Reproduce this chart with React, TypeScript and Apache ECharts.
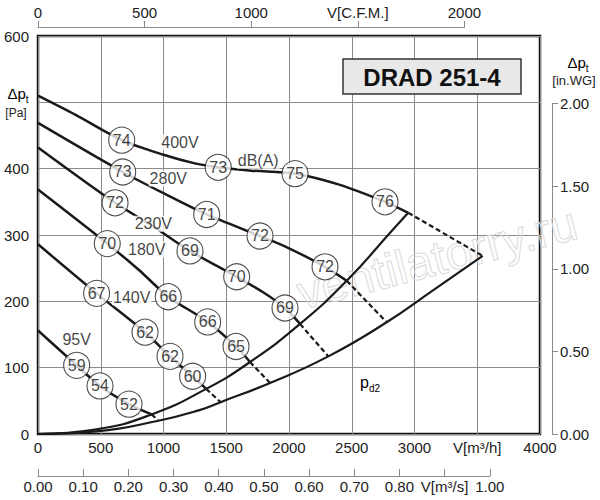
import React, { useEffect, useRef } from 'react';
import * as echarts from 'echarts';

const FONT = '"Liberation Sans", Arial, Helvetica, sans-serif';

// Axis ranges and tick steps
const FLOW_MAX = 4000; // m3/h
const FLOW_STEP = 500;
const PRESS_MAX = 600; // Pa
const PRESS_STEP = 100;
const CFM_MAX = 2000;
const CFM_STEP = 500;
const M3S_MAX = 1.0;
const M3S_STEP = 0.1;
const INWG_MAX = 2.0;
const INWG_STEP = 0.5;

// Tick values whose label is replaced by the unit / axis title
const FLOW_UNIT_TICK = 3500;
const CFM_UNIT_TICK = 1500;
const M3S_UNIT_TICK = 0.9;
const PRESS_TITLE_TICK = 500;

// Fan curves [m3/h, Pa]
const volt400 = [[0, 510], [300, 481], [667, 443], [1000, 421], [1250, 408], [1436, 402], [1700, 397], [2048, 392.5], [2400, 376], [2765, 350], [2950, 333.5]];
const dash400 = [[2950, 333.5], [3543, 268.5]];
const db400 = [[667, 443, '74'], [1436, 402, '73'], [2048, 392.5, '75'], [2765, 350, '76']];

const volt280 = [[0, 469], [675, 395], [1000, 363], [1344, 331], [1769, 298.5], [2000, 280], [2287, 252], [2460, 231]];
const dash280 = [[2460, 231], [2778, 168.5]];
const db280 = [[675, 395, '73'], [1344, 331, '71'], [1769, 298.5, '72'], [2287, 252, '72']];

const volt230 = [[0, 432], [614, 348.5], [900, 315], [1211, 276], [1583, 237], [1800, 213], [1968, 190], [2088, 166]];
const dash230 = [[2088, 166], [2313, 117]];
const db230 = [[614, 348.5, '72'], [1211, 276, '69'], [1583, 237, '70'], [1968, 190, '69']];

const volt180 = [[0, 368.5], [552, 287], [800, 248], [1038, 207], [1352, 169], [1578, 132], [1689, 108.5]];
const dash180 = [[1689, 108.5], [1849, 77]];
const db180 = [[552, 287, '70'], [1038, 207, '66'], [1352, 169, '66'], [1578, 132, '65']];

const volt140 = [[0, 286], [467, 212], [853, 153.5], [1052, 117], [1232, 87], [1340, 68]];
const dash140 = [[1340, 68], [1455, 48]];
const db140 = [[467, 212, '67'], [853, 153.5, '62'], [1052, 117, '62'], [1232, 87, '60']];

const volt95 = [[0, 156], [308, 103.5], [494, 72.5], [725, 45], [905, 29.5]];
const dash95 = [[905, 29.5], [960, 20]];
const db95 = [[308, 103.5, '59'], [494, 72.5, '54'], [725, 45, '52']];

// System curve and dynamic pressure curve
const systemCurve = [[0, 0], [467, 7], [905, 29.5], [1340, 68], [1689, 108.5], [2088, 166], [2460, 231], [2818, 306], [2950, 333.5]];
const pd2Curve = [[0, 0], [467, 4], [960, 20], [1287, 36], [1455, 48], [1849, 77], [2313, 117], [2778, 168.5], [3150, 217], [3543, 268.5]];

// Curve annotations [m3/h, Pa, text]
const curveLabels = [[1131, 440, '400V'], [1038, 385, '280V'], [919, 317, '230V'], [866, 278, '180V'], [747, 206, '140V'], [308, 143, '95V'], [1755, 412, 'dB(A)']];

const INK = '#1a1a1a';
const GRID_GRAY = '#8a8a8a';
const AXIS_GRAY = '#8a8a8a';

function solid(data: number[][], smooth = 0.3) {
  return {
    type: 'line', xAxisIndex: 0, yAxisIndex: 0, data, showSymbol: false, silent: true,
    smooth, z: 3,
    lineStyle: { color: INK, width: 2.5 },
  };
}
function dashed(data: number[][]) {
  return {
    type: 'line', xAxisIndex: 0, yAxisIndex: 0, data, showSymbol: false, silent: true,
    z: 3, lineStyle: { color: INK, width: 2.2, type: [5, 3] },
  };
}
function circles(data: any[]) {
  return {
    type: 'scatter', xAxisIndex: 0, yAxisIndex: 0, data, silent: true, z: 6,
    symbol: 'circle', symbolSize: 26,
    itemStyle: { color: '#ffffff', borderColor: '#222', borderWidth: 1.1 },
    label: { show: true, position: 'inside', formatter: (p: any) => p.data[2], fontSize: 16, color: '#111', fontFamily: FONT },
  };
}

const subRich = {
  m: { fontSize: 15, fontFamily: FONT, color: '#222', lineHeight: 22 },
  s: { fontSize: 10, fontFamily: FONT, color: '#222', lineHeight: 11, verticalAlign: 'bottom' },
};

export default function App() {
  const ref = useRef<HTMLDivElement>(null);
  useEffect(() => {
    if (!ref.current) return;
    const chart = echarts.init(ref.current, undefined, { renderer: 'svg' });
    const labelStyle = { fontSize: 15, color: '#222', fontFamily: FONT };
    const plotLeft = 38, plotTop = 36, plotW = 502, plotH = 398;
    const cfmW = (CFM_MAX * 1.699) / FLOW_MAX * plotW;
    const m3sW = (M3S_MAX * 3600) / FLOW_MAX * plotW;
    const inwgH = (INWG_MAX * 249.09) / PRESS_MAX * plotH;
    const centered = { textAlign: 'center', textVerticalAlign: 'middle', align: 'center', verticalAlign: 'middle' };

    const option: any = {
      animation: false,
      backgroundColor: '#ffffff',
      grid: [
        { left: plotLeft, top: plotTop, width: plotW, height: plotH, show: true, borderColor: '#111', borderWidth: 2.5, backgroundColor: 'transparent' },
        { left: plotLeft, top: 27, width: cfmW, height: 1 },
        { left: plotLeft, top: 475, width: m3sW, height: 1 },
        { left: 551, top: plotTop + plotH - inwgH, width: 1, height: inwgH },
      ],
      xAxis: [
        {
          gridIndex: 0, type: 'value', min: 0, max: FLOW_MAX, interval: FLOW_STEP, position: 'bottom',
          axisLine: { show: false, onZero: false }, axisTick: { show: false },
          splitLine: { show: true, lineStyle: { color: GRID_GRAY, width: 1 } },
          axisLabel: { ...labelStyle, margin: 6, showMinLabel: true, showMaxLabel: true, formatter: (v: number) => (v === FLOW_UNIT_TICK ? 'V[m³/h]' : String(v)) },
        },
        {
          gridIndex: 1, type: 'value', min: 0, max: CFM_MAX, interval: CFM_STEP, position: 'top',
          axisLine: { show: true, onZero: false, lineStyle: { color: AXIS_GRAY, width: 1 } },
          axisTick: { show: true, length: 6, lineStyle: { color: AXIS_GRAY } },
          splitLine: { show: false },
          axisLabel: { ...labelStyle, margin: 7, showMinLabel: true, showMaxLabel: true, formatter: (v: number) => (v === CFM_UNIT_TICK ? 'V[C.F.M.]' : String(v)) },
        },
        {
          gridIndex: 2, type: 'value', min: 0, max: M3S_MAX, interval: M3S_STEP, position: 'bottom',
          axisLine: { show: true, onZero: false, lineStyle: { color: AXIS_GRAY, width: 1 } },
          axisTick: { show: true, inside: true, length: 7, lineStyle: { color: AXIS_GRAY } },
          splitLine: { show: false },
          axisLabel: { ...labelStyle, margin: 3, showMinLabel: true, showMaxLabel: true, formatter: (v: number) => (Math.abs(v - M3S_UNIT_TICK) < 1e-6 ? 'V[m³/s]' : v.toFixed(2)) },
        },
        { gridIndex: 3, type: 'value', min: 0, max: 1, show: false },
      ],
      yAxis: [
        {
          gridIndex: 0, type: 'value', min: 0, max: PRESS_MAX, interval: PRESS_STEP,
          axisLine: { show: false, onZero: false }, axisTick: { show: false },
          splitLine: { show: true, lineStyle: { color: GRID_GRAY, width: 1 } },
          axisLabel: { ...labelStyle, margin: 9, formatter: (v: number) => (v === PRESS_TITLE_TICK ? '' : String(v)) },
        },
        { gridIndex: 1, type: 'value', min: 0, max: 1, show: false },
        { gridIndex: 2, type: 'value', min: 0, max: 1, show: false },
        {
          gridIndex: 3, type: 'value', min: 0, max: INWG_MAX, interval: INWG_STEP, position: 'right',
          axisLine: { show: true, onZero: false, lineStyle: { color: AXIS_GRAY, width: 1 } },
          axisTick: { show: true, length: 6, lineStyle: { color: AXIS_GRAY } },
          splitLine: { show: false },
          axisLabel: { ...labelStyle, margin: 8, formatter: (v: number) => v.toFixed(2) },
        },
      ],
      series: [
        { ...solid(systemCurve, 0.5), lineStyle: { color: INK, width: 2.2 } },
        { ...solid(pd2Curve, 0.5), lineStyle: { color: INK, width: 2.2 } },
        solid(volt400), dashed(dash400), circles(db400),
        solid(volt280), dashed(dash280), circles(db280),
        solid(volt230), dashed(dash230), circles(db230),
        solid(volt180), dashed(dash180), circles(db180),
        solid(volt140), dashed(dash140), circles(db140),
        solid(volt95), dashed(dash95), circles(db95),
        {
          type: 'scatter', xAxisIndex: 0, yAxisIndex: 0, data: curveLabels, silent: true, z: 7,
          symbol: 'circle', symbolSize: 1, itemStyle: { color: 'rgba(0,0,0,0)' },
          label: { show: true, position: 'inside', formatter: (p: any) => p.data[2], fontSize: 16, color: '#111', fontFamily: FONT, backgroundColor: '#ffffff', padding: [0, 1] },
        },
      ],
      graphic: [
        {
          type: 'text', x: 437, y: 258, rotation: 0.253, z: 1, silent: true,
          style: { text: 'ventilatorry.ru', font: '48px ' + FONT, fill: 'none', stroke: '#dadada', lineWidth: 1, ...centered },
        },
        { type: 'rect', z: 100, shape: { x: 343, y: 59, width: 178, height: 35 }, style: { fill: '#e8e8e8', stroke: '#333', lineWidth: 1.5 } },
        { type: 'text', z: 101, x: 432, y: 77, style: { text: 'DRAD 251-4', font: 'bold 24px ' + FONT, fill: '#111', ...centered } },
        { type: 'text', z: 101, x: 18, y: 93, style: { text: '{m|Δp}{s|t}', rich: subRich, ...centered } },
        { type: 'text', z: 101, x: 16, y: 113, style: { text: '[Pa]', font: '12px ' + FONT, fill: '#222', ...centered } },
        { type: 'text', z: 101, x: 578, y: 62, style: { text: '{m|Δp}{s|t}', rich: subRich, ...centered } },
        { type: 'text', z: 101, x: 574, y: 80, style: { text: '[in.WG]', font: '13px ' + FONT, fill: '#222', ...centered } },
        { type: 'text', z: 101, x: 370, y: 382, style: { text: '{m|p}{s|d2}', rich: { ...subRich, m: { ...subRich.m, fontSize: 16 } }, ...centered } },
      ],
    };
    chart.setOption(option);
    return () => chart.dispose();
  }, []);
  return <div ref={ref} style={{ position: 'absolute', left: 0, top: 0, width: 600, height: 500 }} />;
}
